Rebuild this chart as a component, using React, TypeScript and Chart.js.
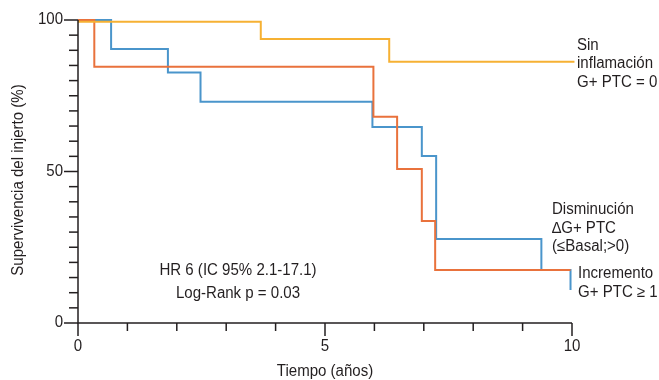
import React, { useEffect, useRef } from "react";
import { Chart, registerables } from "chart.js";

Chart.register(...registerables);

// Kaplan-Meier step data (time in years, survival %)
const sinTimes = [0, 3.7, 6.3, 10.05];
const sinValues = [99.4, 93.7, 86.2, 86.2];

const incTimes = [0, 0.33, 5.98, 6.46, 6.96, 7.23, 9.97];
const incValues = [100, 84.6, 68.1, 50.8, 33.7, 17.5, 17.5];

const disTimes = [0, 0.67, 1.82, 2.48, 5.96, 6.96, 7.25, 9.38, 9.97, 9.97];
const disValues = [100, 90.4, 82.7, 73.0, 64.7, 55.1, 27.7, 17.5, 17.5, 10.9];

const xTickLabels = ["0", "5", "10"];
const xTickLabelValues = [0, 5, 10];
const yTickLabels = ["0", "50", "100"];
const yTickLabelValues = [0, 50, 100];

const sinLabel = ["Sin", "inflamación", "G+ PTC = 0"];
const disLabel = ["Disminución", "∆G+ PTC", "(≤Basal;>0)"];
const incLabel = ["Incremento", "G+ PTC ≥ 1"];
const statsLabel = ["HR 6 (IC 95% 2.1-17.1)", "Log-Rank p = 0.03"];
const xTitle = "Tiempo (años)";
const yTitle = "Supervivencia del injerto (%)";

const YELLOW = "#F6B133";
const ORANGE = "#E9723C";
const BLUE = "#4A95CB";
const TEXT = "#231F20";
const FONT = "16px 'Liberation Sans', Arial, sans-serif";
const SQUEEZE = 0.94;

function toPoints(xs: number[], ys: number[]) {
  return xs.map((x, i) => ({ x, y: ys[i] }));
}

function txt(ctx: CanvasRenderingContext2D, t: string, x: number, y: number, rot = 0) {
  ctx.save();
  ctx.translate(x, y);
  if (rot) ctx.rotate(rot);
  ctx.scale(SQUEEZE, 1);
  ctx.fillText(t, 0, 0);
  ctx.restore();
}

const axesPlugin = {
  id: "kmAxes",
  afterDraw(chart: any) {
    const ctx = chart.ctx as CanvasRenderingContext2D;
    const xs = chart.scales.x;
    const ys = chart.scales.y;
    const x0 = xs.getPixelForValue(0);
    const y0 = ys.getPixelForValue(0);
    const xEnd = xs.getPixelForValue(10);
    const yTop = ys.getPixelForValue(100);
    ctx.save();
    ctx.strokeStyle = TEXT;
    ctx.lineWidth = 1.5;
    ctx.beginPath();
    ctx.moveTo(x0, yTop);
    ctx.lineTo(x0, y0);
    ctx.lineTo(xEnd, y0);
    ctx.stroke();
    // y ticks every 5
    for (let v = 0; v <= 100; v += 5) {
      const py = ys.getPixelForValue(v);
      const major = v % 50 === 0;
      ctx.beginPath();
      ctx.moveTo(x0 - (major ? 14 : 9), py);
      ctx.lineTo(x0, py);
      ctx.stroke();
    }
    // x ticks every 1
    for (let v = 0; v <= 10; v += 1) {
      const px = xs.getPixelForValue(v);
      const major = v % 5 === 0;
      ctx.beginPath();
      ctx.moveTo(px, y0);
      ctx.lineTo(px, y0 + (major ? 13 : 8));
      ctx.stroke();
    }
    ctx.fillStyle = TEXT;
    ctx.font = FONT;
    ctx.textBaseline = "middle";
    ctx.textAlign = "right";
    yTickLabels.forEach((t, i) => {
      txt(ctx, t, x0 - 15, ys.getPixelForValue(yTickLabelValues[i]));
    });
    ctx.textAlign = "center";
    xTickLabels.forEach((t, i) => {
      txt(ctx, t, xs.getPixelForValue(xTickLabelValues[i]), y0 + 24);
    });
    txt(ctx, xTitle, (x0 + xEnd) / 2, y0 + 49);
    txt(ctx, yTitle, 19, 180, -Math.PI / 2);

    // annotations
    ctx.textBaseline = "alphabetic";
    ctx.textAlign = "left";
    const sinBase = [50, 68.3, 86.7];
    sinLabel.forEach((t, i) => txt(ctx, t, xEnd + 5, sinBase[i]));
    const disBase = [214, 232.5, 251];
    disLabel.forEach((t, i) => txt(ctx, t, 552, disBase[i]));
    const incBase = [278, 297];
    incLabel.forEach((t, i) => txt(ctx, t, xEnd + 6, incBase[i]));
    ctx.textAlign = "center";
    const statBase = [275, 298];
    statsLabel.forEach((t, i) => txt(ctx, t, 238, statBase[i]));
    ctx.restore();
  },
};

export default function App() {
  const ref = useRef<HTMLCanvasElement | null>(null);
  useEffect(() => {
    if (!ref.current) return;
    const chart = new Chart(ref.current, {
      type: "line",
      data: {
        datasets: [
          {
            label: "Sin inflamación",
            data: toPoints(sinTimes, sinValues),
            borderColor: YELLOW,
            borderWidth: 2,
            stepped: true,
            pointRadius: 0,
            fill: false,
            clip: false,
          },
          {
            label: "Incremento",
            data: toPoints(incTimes, incValues),
            borderColor: ORANGE,
            borderWidth: 2,
            stepped: true,
            pointRadius: 0,
            fill: false,
            clip: false,
          },
          {
            label: "Disminución",
            data: toPoints(disTimes, disValues),
            borderColor: BLUE,
            borderWidth: 2,
            stepped: true,
            pointRadius: 0,
            fill: false,
            clip: false,
          },
        ],
      },
      options: {
        responsive: false,
        animation: false,
        devicePixelRatio: 1,
        layout: { padding: { left: 78, right: 87, top: 20, bottom: 57 } },
        plugins: { legend: { display: false }, tooltip: { enabled: false } },
        scales: {
          x: { type: "linear", min: 0, max: 10, display: false },
          y: { type: "linear", min: 0, max: 100, display: false },
        },
      } as any,
      plugins: [axesPlugin],
    });
    return () => chart.destroy();
  }, []);
  return (
    <div style={{ position: "fixed", left: 0, top: 0, width: 659, height: 380, background: "#fff" }}>
      <canvas ref={ref} width={659} height={380} style={{ display: "block" }} />
    </div>
  );
}
